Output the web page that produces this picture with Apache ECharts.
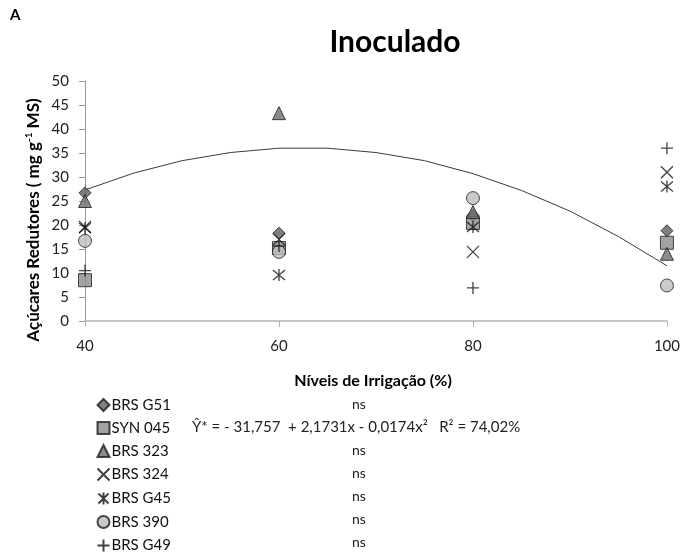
<!DOCTYPE html>
<html>
<head>
<meta charset="utf-8">
<script src="https://cdn.jsdelivr.net/npm/echarts@6/dist/echarts.min.js"></script>
<style>html,body{margin:0;padding:0;background:#fff}#c{width:683px;height:553px}</style>
</head>
<body>
<div id="c"></div>
<script>
// ---- data ----
const levels = [40, 60, 80, 100];
const brsG51  = [26.7, 18.3, 22.0, 18.8];
const syn045  = [8.5, 15.2, 20.4, 16.3];
const brs323  = [25.0, 43.3, 22.7, 14.0];
const brs324  = [19.6, 17.0, 14.4, 31.0];
const brsG45  = [19.4, 9.6, 19.6, 28.0];
const brs390  = [16.7, 14.4, 25.6, 7.4];
const brsG49  = [10.5, 15.6, 6.9, 36.0];
// fitted curve for SYN 045
const trendX = [40, 45, 50, 55, 60, 65, 70, 75, 80, 85, 90, 95, 100];
const trendY = [27.3, 30.8, 33.4, 35.1, 36.0, 36.0, 35.1, 33.4, 30.7, 27.2, 22.9, 17.6, 11.5];
const seriesNames = ['BRS G51', 'SYN 045', 'BRS 323', 'BRS 324', 'BRS G45', 'BRS 390', 'BRS G49'];
const notes = ['ns', 'Ŷ* = - 31,757  + 2,1731x - 0,0174x²   R² = 74,02%', 'ns', 'ns', 'ns', 'ns', 'ns'];
const yTicks = [0, 50, 5];
const xTicks = [40, 100, 20];

const FONT = 'Lato, "Open Sans", sans-serif';
const pair = arr => levels.map((x, i) => [x, arr[i]]);
const allValues = [brsG51, syn045, brs323, brs324, brsG45, brs390, brsG49];

const styles = [
  { symbol: 'diamond', symbolSize: 12, itemStyle: { color: '#5f5f5f', borderColor: '#1e1e1e', borderWidth: 1 } },
  { symbol: 'rect', symbolSize: 13, itemStyle: { color: '#8c8c8c', borderColor: '#1e1e1e', borderWidth: 1 } },
  { symbol: 'triangle', symbolSize: 13, itemStyle: { color: '#6e6e6e', borderColor: '#1e1e1e', borderWidth: 1 } },
  { symbol: 'path://M0,0L10,10M10,0L0,10', symbolSize: 12, itemStyle: { color: 'none', borderColor: '#111', borderWidth: 1.3 } },
  { symbol: 'path://M0,0L10,10M10,0L0,10M5,-1L5,11', symbolSize: 12, itemStyle: { color: 'none', borderColor: '#111', borderWidth: 1.3 } },
  { symbol: 'circle', symbolSize: 13, itemStyle: { color: '#bdbdbd', borderColor: '#1e1e1e', borderWidth: 1 } },
  { symbol: 'path://M5,0L5,10M0,5L10,5', symbolSize: 12, itemStyle: { color: 'none', borderColor: '#111', borderWidth: 1.3 } }
];

const series = [{
  name: 'trend', type: 'line', smooth: false, showSymbol: false, silent: true, z: 1,
  data: trendX.map((x, i) => [x, trendY[i]]),
  lineStyle: { color: '#3a3a3a', width: 1 }
}];
seriesNames.forEach((n, i) => {
  series.push(Object.assign({ name: n, type: 'scatter', z: 2 + i, data: pair(allValues[i]) }, styles[i]));
});

const legendTop = 397, pitch = 23;
const graphics = [
  { type: 'text', left: 10, top: 8, style: { text: 'A', font: 'bold 15px ' + FONT, fill: '#000' } },
  { type: 'text', x: 395, y: 42, style: { text: 'Inoculado', font: 'bold 30px ' + FONT, fill: '#000', textAlign: 'center', textVerticalAlign: 'middle' } },
  { type: 'text', x: 373, y: 381, style: { text: 'Níveis de Irrigação (%)', font: 'bold 16px ' + FONT, fill: '#000', textAlign: 'center', textVerticalAlign: 'middle' } },
  { type: 'text', x: 34, y: 220, rotation: Math.PI / 2,
    style: { text: '{a|Açúcares Redutores ( mg g}{s|-1}{a| MS)}', textAlign: 'center', textVerticalAlign: 'middle',
      rich: { a: { font: 'bold 17px ' + FONT, fill: '#000', lineHeight: 20 }, s: { font: 'bold 10px ' + FONT, fill: '#000', verticalAlign: 'top', lineHeight: 20 } } } }
];
notes.forEach((t, i) => {
  const isNs = t === 'ns';
  graphics.push({ type: 'text', x: isNs ? 352 : 192, y: legendTop + 7 + i * pitch,
    style: { text: t, font: (isNs ? '14px ' : '15px ') + FONT, fill: '#222', textVerticalAlign: 'middle' } });
});

const chart = echarts.init(document.getElementById('c'), null, { renderer: 'canvas' });
chart.setOption({
  animation: false,
  backgroundColor: '#fff',
  grid: { left: 85, right: 15, top: 81, bottom: 232, containLabel: false },
  xAxis: {
    type: 'value', min: xTicks[0], max: xTicks[1], interval: xTicks[2],
    axisLine: { lineStyle: { color: '#b4b4b4', width: 1.5 } },
    axisTick: { show: true, length: 6, lineStyle: { color: '#b4b4b4' } },
    splitLine: { show: false },
    axisLabel: { color: '#222', fontSize: 15, fontFamily: FONT, margin: 18 }
  },
  yAxis: {
    type: 'value', min: yTicks[0], max: yTicks[1], interval: yTicks[2],
    axisLine: { show: true, lineStyle: { color: '#9a9a9a', width: 1 } },
    axisTick: { show: true, length: 6, lineStyle: { color: '#9a9a9a' } },
    splitLine: { show: false },
    axisLabel: { color: '#222', fontSize: 15, fontFamily: FONT, margin: 16 }
  },
  legend: {
    orient: 'vertical', left: 95, top: legendTop, height: 220, padding: 0,
    itemWidth: 12, itemHeight: 12, itemGap: 7,
    data: seriesNames,
    textStyle: { color: '#111', fontSize: 15, fontFamily: FONT, lineHeight: 16, padding: [0, 0, 0, -3] },
    selectedMode: false
  },
  series: series,
  graphic: graphics
});
</script>
</body>
</html>
